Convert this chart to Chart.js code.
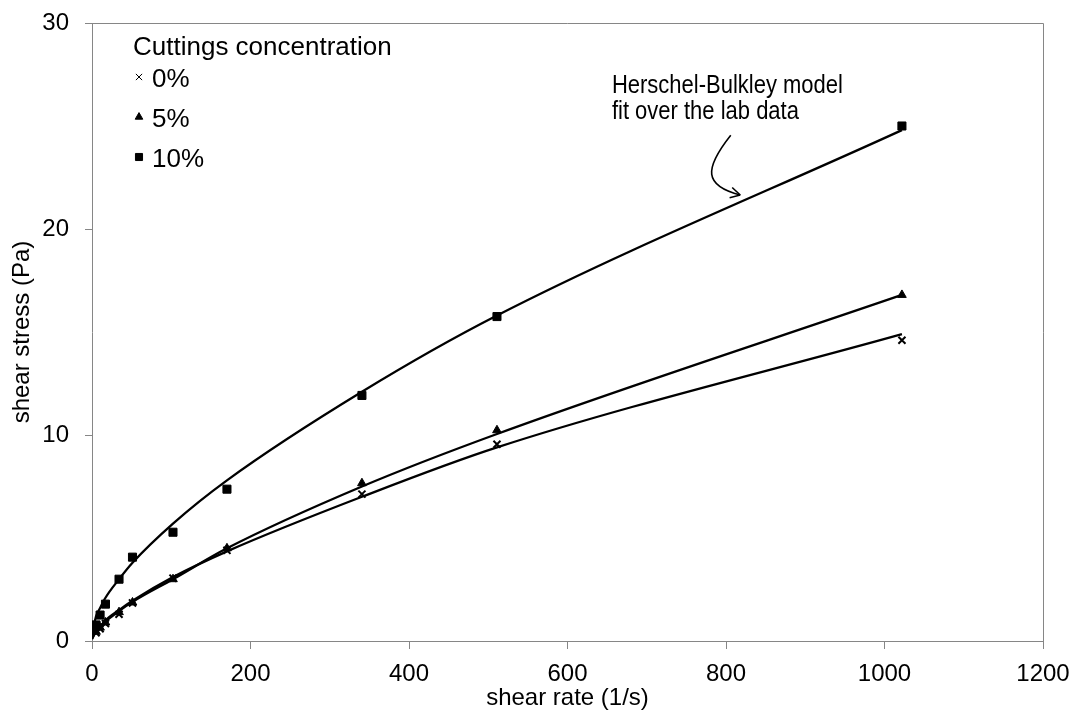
<!DOCTYPE html>
<html>
<head>
<meta charset="utf-8">
<title>Shear stress vs shear rate</title>
<script src="https://cdn.jsdelivr.net/npm/chart.js@4.4.1/dist/chart.umd.min.js"></script>
<style>
  html, body { margin: 0; padding: 0; background: #fff; }
  #wrap { width: 1079px; height: 713px; }
</style>
</head>
<body>
<div id="wrap"><canvas id="chart" width="1079" height="713"></canvas></div>
<script>
// -------- Data ---------------------------------
const shearRates = [1022, 511, 340.6, 170.3, 102.2, 51.1, 34.1, 17.0, 10.2, 5.1];
const stress0  = [14.6, 9.55, 7.13, 4.4, 3.05, 1.85, 1.3, 0.85, 0.6, 0.4];
const stress5  = [16.8, 10.23, 7.66, 4.5, 3.0, 1.87, 1.4, 0.9, 0.65, 0.45];
const stress10 = [25.0, 15.75, 11.92, 7.37, 5.28, 4.07, 3.0, 1.79, 1.26, 0.78];

// Herschel-Bulkley fit lines
const fitRates = [0, 5.1, 10.2, 17.0, 34.1, 51.1, 102.2, 170.3, 340.6, 511, 1022];
const fit0  = [0.1, 0.5, 0.7, 1.0, 1.5, 1.95, 3.1, 4.35, 7.0, 9.4, 14.9];
const fit5  = [0.1, 0.45, 0.7, 0.95, 1.45, 1.9, 3.0, 4.5, 7.5, 10.05, 16.8];
const fit10 = [0.3, 1.2, 1.6, 2.1, 3.0, 3.8, 5.7, 7.8, 12.1, 15.8, 24.8];

const seriesLabels = ["0%", "5%", "10%"];
const xTicks = [0, 200, 400, 600, 800, 1000, 1200];
const yTicks = [0, 10, 20, 30];

const FONT = "'Liberation Sans', Arial, sans-serif";
const AXIS_GRAY = "#868686";

const pts = (xs, ys) => xs.map((x, i) => ({ x, y: ys[i] }));

function markerSet(label, ys, style, radius) {
  return {
    label, data: pts(shearRates, ys),
    showLine: false, pointStyle: style, pointRadius: radius, pointHoverRadius: radius,
    pointBackgroundColor: "#000", pointBorderColor: "#000",
    pointBorderWidth: style === "crossRot" ? 2 : 1
  };
}
function fitSet(ys) {
  return {
    label: "fit", data: pts(fitRates, ys),
    showLine: true, pointRadius: 0, borderColor: "#000", borderWidth: 2.3,
    cubicInterpolationMode: "monotone", fill: false
  };
}

// -------- Plugins ----------
// frame on top/right like the original plot area box
const frame = {
  id: "frame",
  afterDraw(chart) {
    const { ctx, chartArea: a } = chart;
    ctx.save();
    ctx.strokeStyle = AXIS_GRAY; ctx.lineWidth = 1;
    ctx.beginPath();
    ctx.moveTo(a.left, a.top + 0.5); ctx.lineTo(a.right + 0.5, a.top + 0.5);
    ctx.lineTo(a.right + 0.5, a.bottom);
    ctx.stroke();
    ctx.restore();
  }
};

// legend drawn inside the plot area
const insideLegend = {
  id: "insideLegend",
  afterDraw(chart) {
    const { ctx, chartArea: a } = chart;
    ctx.save();
    ctx.fillStyle = "#000";
    ctx.font = "26px " + FONT;
    ctx.textBaseline = "alphabetic";
    ctx.textAlign = "left";
    ctx.fillText("Cuttings concentration", a.left + 41, a.top + 32);
    const styles = [["crossRot", 4.4], ["triangle", 4.4], ["rect", 5]];
    seriesLabels.forEach((lab, i) => {
      const cy = a.top + 54 + i * 40;
      Chart.helpers.drawPoint(ctx, { pointStyle: styles[i][0], radius: styles[i][1], borderWidth: i === 0 ? 2 : 1, rotation: 0 }, a.left + 47, cy);
      ctx.fillText(lab, a.left + 60, cy + 10);
    });
    ctx.restore();
  }
};

// "Herschel-Bulkley" callout, placed in data units
const noteAt = { x: 656, y1: 26.6, y2: 25.34 };
const arrowPath = [[806, 24.55], [772, 22.9], [772, 22.1], [818, 21.65]];
const callout = {
  id: "callout",
  afterDraw(chart) {
    const { ctx, scales: { x, y } } = chart;
    ctx.save();
    ctx.fillStyle = "#000";
    ctx.font = "26px " + FONT;
    ctx.textAlign = "left";
    ctx.textBaseline = "alphabetic";
    // the original uses a narrow face; squeeze the regular one to match
    const lines = [["Herschel-Bulkley model", noteAt.y1], ["fit over the lab data", noteAt.y2]];
    const sx = 231 / ctx.measureText(lines[0][0]).width;
    lines.forEach(([txt, v]) => {
      ctx.save();
      ctx.translate(x.getPixelForValue(noteAt.x), y.getPixelForValue(v));
      ctx.scale(sx, 1);
      ctx.fillText(txt, 0, 0);
      ctx.restore();
    });
    const p = arrowPath.map(([a, b]) => [x.getPixelForValue(a), y.getPixelForValue(b)]);
    ctx.strokeStyle = "#000"; ctx.lineWidth = 1.6;
    ctx.beginPath();
    ctx.moveTo(p[0][0], p[0][1]);
    ctx.bezierCurveTo(p[1][0], p[1][1], p[2][0], p[2][1], p[3][0], p[3][1]);
    ctx.stroke();
    const ang = Math.atan2(p[3][1] - p[2][1], p[3][0] - p[2][0]);
    ctx.beginPath();
    [-0.5, 0.5].forEach(d => {
      ctx.moveTo(p[3][0], p[3][1]);
      ctx.lineTo(p[3][0] - 11 * Math.cos(ang + d), p[3][1] - 11 * Math.sin(ang + d));
    });
    ctx.stroke();
    ctx.restore();
  }
};

// -------- Chart ----------
Chart.defaults.font.family = FONT;
Chart.defaults.color = "#000";

new Chart(document.getElementById("chart"), {
  type: "scatter",
  data: {
    datasets: [
      markerSet(seriesLabels[0], stress0, "crossRot", 5),
      markerSet(seriesLabels[1], stress5, "triangle", 5),
      markerSet(seriesLabels[2], stress10, "rect", 5.7),
      fitSet(fit0), fitSet(fit5), fitSet(fit10)
    ]
  },
  options: {
    responsive: false,
    animation: false,
    devicePixelRatio: 1,
    layout: { padding: { top: 23, right: 36, left: 0, bottom: 0 } },
    plugins: { legend: { display: false }, tooltip: { enabled: false } },
    scales: {
      x: {
        type: "linear", min: 0, max: 1200,
        afterBuildTicks: s => { s.ticks = xTicks.map(v => ({ value: v })); },
        afterFit: s => { s.height = 72; s.paddingLeft = 0; s.paddingRight = 0; },
        ticks: { font: { size: 24 }, padding: 11, maxRotation: 0, callback: v => String(v) },
        grid: { drawOnChartArea: false, drawTicks: true, tickLength: 8, color: AXIS_GRAY },
        border: { color: AXIS_GRAY },
        title: { display: true, text: "shear rate (1/s)", font: { size: 24 }, padding: { top: 0, bottom: 0 } }
      },
      y: {
        type: "linear", min: 0, max: 30,
        afterBuildTicks: s => { s.ticks = yTicks.map(v => ({ value: v })); },
        afterFit: s => { s.width = 92; s.paddingTop = 0; s.paddingBottom = 0; },
        ticks: { font: { size: 24 }, padding: 16, callback: v => String(v) },
        grid: { drawOnChartArea: false, drawTicks: true, tickLength: 7, color: AXIS_GRAY },
        border: { color: AXIS_GRAY },
        title: { display: true, text: "shear stress (Pa)", font: { size: 24 }, padding: { top: 8, bottom: 0 } }
      }
    }
  },
  plugins: [frame, insideLegend, callout]
});
</script>
</body>
</html>
